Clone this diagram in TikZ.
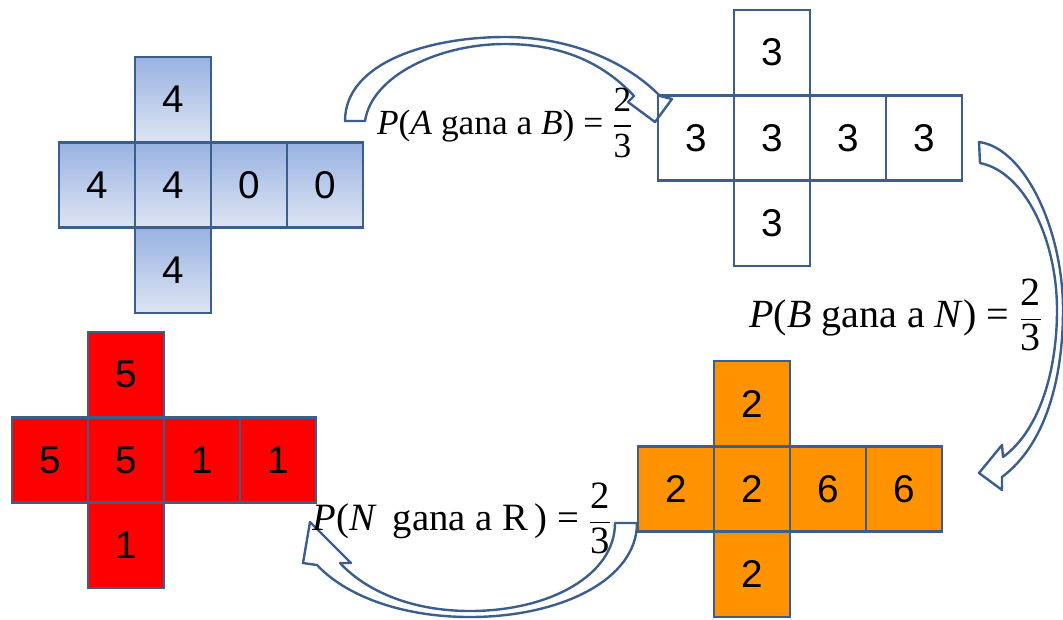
\documentclass[tikz,border=0pt]{standalone}
\usepackage{amsmath}
\usepackage{fontspec}
\setmainfont{Liberation Serif}
\newfontfamily\digitfont{Liberation Sans}
\usetikzlibrary{positioning}

\definecolor{edgeblue}{RGB}{59,94,140}
\definecolor{faceblue}{RGB}{152,178,226}
\definecolor{facelight}{RGB}{222,229,243}
\definecolor{faceorange}{RGB}{255,146,0}

\tikzset{
  face/.style={draw=edgeblue, line width=2pt, minimum width=57pt, minimum height=64pt,
    inner sep=0pt, outer sep=0pt, font=\digitfont\fontsize{29}{31}\selectfont},
  bluefill/.style={top color=faceblue, bottom color=facelight},
  redfill/.style={fill=red},
  orangefill/.style={fill=faceorange},
  nofill/.style={},
  curvedarrow/.style={draw=edgeblue, fill=white, line width=1.8pt, line join=round},
  prob/.style={inner sep=0pt}
}

\begin{document}
\begin{tikzpicture}[x=0.75pt, y=-0.75pt]
\useasboundingbox (0,0) rectangle (1063,619);
% curved arrows
\draw[curvedarrow] (345,121) .. controls (345,62) and (430,37) .. (505,37)
  .. controls (575,37) and (630,65) .. (660,96) -- (672,99) -- (655,122) -- (628,102) -- (634,96)
  .. controls (605,65) and (565,44) .. (505,44) .. controls (440,44) and (372,75) .. (365,121) -- cycle;
\draw[curvedarrow] (979,142) -- (980,163) .. controls (1025,172) and (1057,240) .. (1057,310)
  .. controls (1057,370) and (1040,430) .. (1003,457) -- (1002,445) -- (979,473) -- (1002,490) -- (1002,477)
  .. controls (1045,445) and (1063,380) .. (1063,310) .. controls (1063,230) and (1025,148) .. (979,142) -- cycle;
\draw[curvedarrow] (615,523) -- (637,523) .. controls (637,580) and (560,617) .. (470,617)
  .. controls (400,617) and (345,595) .. (317,565) -- (303,563) -- (310,522) -- (351,563) -- (340,563)
  .. controls (365,590) and (410,611) .. (470,611) .. controls (550,611) and (615,575) .. (615,523) -- cycle;
% dice nets
\foreach \n/\px/\py/\col/\t/\l/\m/\r/\f/\b in {
  a/173/185/bluefill/4/4/4/0/0/4,
  b/772/138/nofill/3/3/3/3/3/3,
  n/752/489/orangefill/2/2/2/6/6/2,
  r/126/460/redfill/5/5/5/1/1/1}
{
  \node[face, \col] (\n-m) at (\px,\py) {\m};
  \node[face, \col, above=0pt of \n-m] (\n-t) {\t};
  \node[face, \col, left=0pt of \n-m] (\n-l) {\l};
  \node[face, \col, right=0pt of \n-m] (\n-r) {\r};
  \node[face, \col, right=0pt of \n-r] (\n-f) {\f};
  \node[face, \col, below=0pt of \n-m] (\n-b) {\b};
}
% probabilities
\node[prob, font=\fontsize{26.5}{30}\selectfont] (pab) at (505,123)
  {\textit{P}(\textit{A} gana a \textit{B}) = $\dfrac{\text{2}}{\text{3}}$};
\node[prob, font=\fontsize{30}{34}\selectfont] (pbn) at (896,315)
  {\textit{P}(\textit{B} gana a \textit{N}) = $\dfrac{\text{2}}{\text{3}}$};
\node[prob, font=\fontsize{29}{33}\selectfont] (pnr) at (462,518)
  {\textit{P}(\textit{N}\, gana a R\,) = $\dfrac{\text{2}}{\text{3}}$};
\end{tikzpicture}
\end{document}
